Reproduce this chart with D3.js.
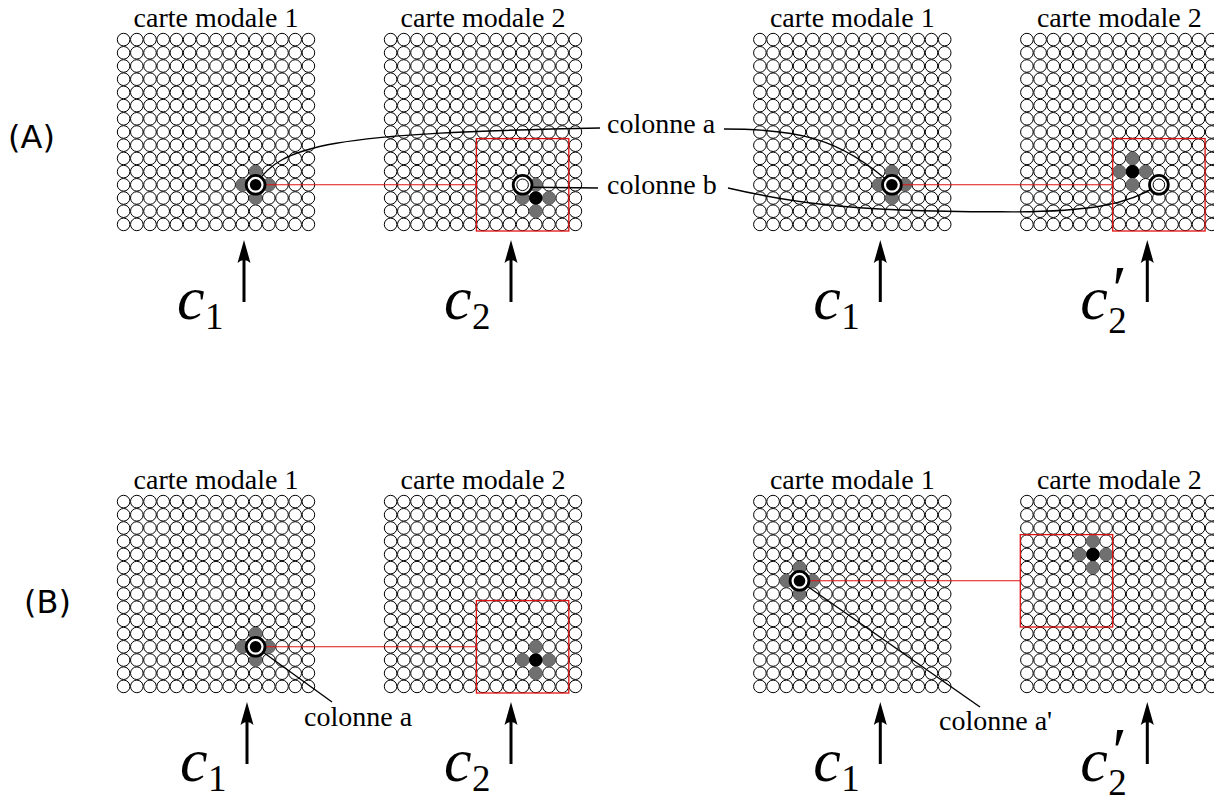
<!DOCTYPE html>
<html>
<head>
<meta charset="utf-8">
<script src="https://cdn.jsdelivr.net/npm/d3@7"></script>
<style>
  body { margin: 0; background: #fff; }
  svg { display: block; }
</style>
</head>
<body>
<script>
'use strict';

// grid size of each self-organising map
const gridN = 15;
const mapTitles = ["carte modale 1", "carte modale 2"];
const rowLabels = ["(A)", "(B)"];

// four cases: A-left, A-right, B-left, B-right
// best unit in map 1 (col, row)
const winner1 = [[10, 11], [10, 11], [10, 11], [3, 6]];
// top-left cell of the neighbourhood window in map 2
const window2 = [[7, 8], [7, 8], [7, 8], [0, 3]];
const windowSize = 7;
// activity centre in map 2 (col, row)
const active2 = [[11, 12], [8, 10], [11, 12], [5, 4]];
// hollow ring in map 2 (column b)
const ring2 = [[10, 11], [10, 11], null, null];
// subscript + prime of the map 2 label
const label2 = [["2", false], ["2", true], ["2", false], ["2", true]];
const leaderNames = ["colonne a", "colonne b", "colonne a", "colonne a'"];

const width = 1214, height = 798;
const cell = 13.2, side = cell * gridN;
const groupX = [117, 753.3];
const map2Shift = 267;
const rowY = [33, 495];
const grey = "#707070";
const red = "#e01010";
const serif = "'Liberation Serif', 'Times New Roman', serif";

const svg = d3.select("body").append("svg")
  .attr("width", width)
  .attr("height", height);

// scales for each case and each map
function scalesFor(k, m) {
  let x0 = groupX[k & 1] + m * map2Shift;
  let y0 = rowY[k >> 1];
  return {
    x: d3.scaleLinear().domain([0, gridN]).range([x0, x0 + side]),
    y: d3.scaleLinear().domain([0, gridN]).range([y0, y0 + side])
  };
}
const cx = (s, i) => s.x(i + 0.5);
const cy = (s, j) => s.y(j + 0.5);

const cells = d3.range(gridN * gridN).map(i => [i % gridN, Math.floor(i / gridN)]);
const cross = c => [[c[0], c[1] - 1], [c[0] - 1, c[1]], [c[0] + 1, c[1]], [c[0], c[1] + 1]];

const layerGrid = svg.append("g");
const layerMarks = svg.append("g");
const layerLines = svg.append("g");
const layerTop = svg.append("g");
const layerText = svg.append("g");

// draw the 8 maps
d3.range(4).forEach(k => {
  [0, 1].forEach(m => {
    let s = scalesFor(k, m);
    layerGrid.append("g").selectAll("circle")
      .data(cells).enter()
      .append("circle")
        .attr("cx", d => cx(s, d[0]))
        .attr("cy", d => cy(s, d[1]))
        .attr("r", 6.3)
        .attr("fill", "#fff")
        .attr("stroke", "#000")
        .attr("stroke-width", 1);

    layerText.append("text")
      .attr("x", s.x(gridN / 2))
      .attr("y", s.y(0) - 6)
      .attr("text-anchor", "middle")
      .attr("font-family", serif)
      .attr("font-size", 28)
      .text(mapTitles[m]);

    // input arrow
    let ax = s.x(gridN / 2) + 28 + (k >> 1) * 3 * (1 - (k & 1)) * (1 - m);
    let tip = s.y(gridN) + 9;
    layerText.append("line")
      .attr("x1", ax).attr("x2", ax)
      .attr("y1", tip + 14).attr("y2", tip + 62)
      .attr("stroke", "#000")
      .attr("stroke-width", 3);
    layerText.append("path")
      .attr("d", `M${ax},${tip} L${ax - 6.5},${tip + 23} Q${ax},${tip + 17} ${ax + 6.5},${tip + 23} Z`)
      .attr("fill", "#000");

    // c label : c, optional prime, subscript
    let base = s.y(gridN) + 88;
    let primed = m === 1 && label2[k][1];
    let lab = layerText.append("text")
      .attr("font-family", serif);
    lab.append("tspan")
      .attr("x", ax - 67)
      .attr("y", base)
      .attr("font-size", 62)
      .attr("font-style", "italic")
      .text("c");
    if (primed) {
      lab.append("tspan")
        .attr("x", ax - 39)
        .attr("y", base - 8)
        .attr("font-size", 66)
        .attr("font-style", "italic")
        .text("\u2032");
    }
    lab.append("tspan")
      .attr("x", ax - 39)
      .attr("y", base + (primed ? 14 : 10))
      .attr("font-size", 37)
      .text(m === 0 ? "1" : label2[k][0]);
  });
});

// activity in map 2 and the window
d3.range(4).forEach(k => {
  let s1 = scalesFor(k, 0);
  let s2 = scalesFor(k, 1);

  layerMarks.selectAll(null)
    .data(cross(active2[k])).enter()
    .append("circle")
      .attr("cx", d => cx(s2, d[0]))
      .attr("cy", d => cy(s2, d[1]))
      .attr("r", 6.7)
      .attr("fill", grey);
  layerMarks.append("circle")
    .attr("cx", cx(s2, active2[k][0]))
    .attr("cy", cy(s2, active2[k][1]))
    .attr("r", 6.5)
    .attr("fill", "#000");

  layerMarks.selectAll(null)
    .data(cross(winner1[k])).enter()
    .append("circle")
      .attr("cx", d => cx(s1, d[0]))
      .attr("cy", d => cy(s1, d[1]))
      .attr("r", 6.7)
      .attr("fill", grey);

  let w = window2[k];
  layerTop.append("rect")
    .attr("x", s2.x(w[0]))
    .attr("y", s2.y(w[1]))
    .attr("width", s2.x(w[0] + windowSize) - s2.x(w[0]))
    .attr("height", s2.y(w[1] + windowSize) - s2.y(w[1]))
    .attr("fill", "none")
    .attr("stroke", red)
    .attr("stroke-width", 1.3);

  // red link from the winner to the window
  let nx = cx(s1, winner1[k][0]), ny = cy(s1, winner1[k][1]);
  layerLines.append("line")
    .attr("x1", nx).attr("y1", ny)
    .attr("x2", s2.x(w[0])).attr("y2", ny)
    .attr("stroke", red)
    .attr("stroke-width", 1.1);
});

// leader lines
const lead = (d) => layerLines.append("path")
  .attr("d", d)
  .attr("fill", "none")
  .attr("stroke", "#000")
  .attr("stroke-width", 1.4);

function node1(k) {
  let s = scalesFor(k, 0);
  return [cx(s, winner1[k][0]), cy(s, winner1[k][1])];
}
function nodeRing(k) {
  let s = scalesFor(k, 1);
  return [cx(s, ring2[k][0]), cy(s, ring2[k][1])];
}

let labA = [600, 128], labAr = [724, 129];
let labB = [598, 188], labBr = [728, 188];
let p = node1(0);
lead(`M${p[0]},${p[1]} C${p[0] + 25},${p[1] - 40} ${p[0] + 75},${labA[1] + 5} ${labA[0]},${labA[1]}`);
p = node1(1);
lead(`M${labAr[0]},${labAr[1]} C${labAr[0] + 70},${labAr[1]} ${p[0] - 52},${p[1] - 48} ${p[0]},${p[1]}`);
p = nodeRing(0);
lead(`M${p[0] + 9},${p[1] + 2.5} L${labB[0]},${labB[1]}`);
p = nodeRing(1);
lead(`M${labBr[0]},${labBr[1]} C${labBr[0] + 52},${labBr[1] + 12} ${labBr[0] + 112},${labBr[1] + 24} ${p[0] - 159},${p[1] + 27} C${p[0] - 69},${p[1] + 28} ${p[0] - 29},${p[1] + 19} ${p[0]},${p[1]}`);
p = node1(2);
lead(`M${p[0]},${p[1]} L332,702`);
p = node1(3);
lead(`M${p[0]},${p[1]} L980,707`);

// rings over the winners
d3.range(4).forEach(k => {
  let q = node1(k);
  layerTop.append("circle")
    .attr("cx", q[0]).attr("cy", q[1]).attr("r", 9.4)
    .attr("fill", "#fff").attr("stroke", "#000").attr("stroke-width", 2.8);
  layerTop.append("circle")
    .attr("cx", q[0]).attr("cy", q[1]).attr("r", 5.8)
    .attr("fill", "#000");
  if (ring2[k]) {
    let r = nodeRing(k);
    layerTop.append("circle")
      .attr("cx", r[0]).attr("cy", r[1]).attr("r", 9.4)
      .attr("fill", "#fff").attr("stroke", "#000").attr("stroke-width", 2.8);
    layerTop.append("circle")
      .attr("cx", r[0]).attr("cy", r[1]).attr("r", 5.8)
      .attr("fill", "#fff").attr("stroke", "#000").attr("stroke-width", 1);
  }
});

// leader labels
const leaderPos = [[607, 133], [607, 194], [304, 726], [939, 730]];
layerText.selectAll(null)
  .data(leaderNames).enter()
  .append("text")
    .attr("x", (d, i) => leaderPos[i][0])
    .attr("y", (d, i) => leaderPos[i][1])
    .attr("font-family", serif)
    .attr("font-size", 28)
    .text(d => d);

// row labels
layerText.selectAll(null)
  .data(rowLabels).enter()
  .append("text")
    .attr("x", (d, i) => i === 0 ? 8 : 24)
    .attr("y", (d, i) => i === 0 ? 148 : 613)
    .attr("font-family", "'DejaVu Sans', sans-serif")
    .attr("font-size", 32)
    .text(d => d);
</script>
</body>
</html>
